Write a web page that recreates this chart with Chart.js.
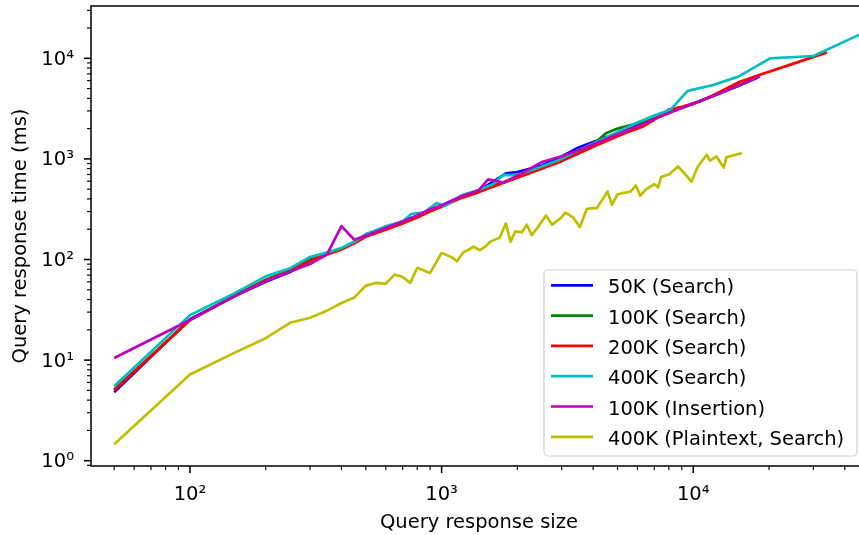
<!DOCTYPE html>
<html>
<head>
<meta charset="utf-8">
<script src="https://cdn.jsdelivr.net/npm/chart.js@4/dist/chart.umd.min.js"></script>
<style>
html, body { margin: 0; padding: 0; width: 859px; height: 535px; overflow: hidden; background: #fff; }
#wrap { width: 868px; height: 535px; }
</style>
</head>
<body>
<div id="wrap"><canvas id="c" width="868" height="535"></canvas></div>
<script>
// ---------- data ----------
const seriesLabels = ['50K (Search)', '100K (Search)', '200K (Search)', '400K (Search)', '100K (Insertion)', '400K (Plaintext, Search)'];

const searchSizes = [50,100,150,200,250,300,350,400,450,500,600,700,800,900,1000,1200,1400,1600,1800,2000,2500,3000,3500,4000,4500,5000,6000,7000,8000,9000,10000,12000,15000,18000];
const blue50K   = [4.8,25.5,43,60,75,97,113,128,150,178,208,238,272,310,345,425,485,590,720,740,860,1060,1300,1470,1640,1800,2130,2500,2880,3230,3560,4250,5300,6450];
const green100K = [5.1,25,44,63,78,100,114,129,148,172,204,235,268,305,340,415,470,540,600,660,815,960,1160,1400,1800,2000,2260,2520,2880,3220,3540,4230,5280,6450];

const red200KSizes = [50,100,150,200,250,300,350,400,450,500,600,700,800,900,1000,1200,1400,1600,1800,2000,2500,3000,3500,4000,4500,5000,5500,6300,7000,8000,9000,10600,12000,15300,18400,25000,34000];
const red200K      = [5.0,25,43,62,77,97,112,126,145,168,198,228,262,300,335,410,465,530,590,650,800,950,1130,1320,1500,1680,1850,2090,2450,3100,3300,3720,4300,5850,6850,8850,11450];

const cyan400KSizes = [50,100,150,200,250,300,350,400,450,500,600,700,760,850,955,1030,1200,1400,1600,1760,2000,2500,3000,3500,4000,4500,5000,6000,7000,8100,9500,12000,15100,20200,30000,45300,50000];
const cyan400K      = [5.5,28,46,68,82,106,117,130,150,178,214,240,285,292,364,340,435,490,560,695,690,840,1000,1220,1420,1620,1850,2300,2700,3070,4740,5430,6570,10000,10540,17000,19100];

const insertSizes = [50,100,150,200,250,300,350,400,450,500,600,700,800,900,1000,1200,1400,1530,1760,2000,2500,3000,3500,4000,4500,5000,6000,7000,8000,9000,10000,12000,15000,18400];
const insert100K  = [10.5,25,43,61,76,90,112,215,157,172,206,238,275,315,345,425,485,625,583,680,930,1060,1220,1390,1570,1760,2110,2490,2860,3210,3530,4220,5300,6580];

const plainSizes = [50,100,150,200,250,300,350,400,450,500,550,600,650,700,750,800,900,1000,1100,1150,1220,1280,1340,1420,1490,1560,1700,1800,1880,1960,2080,2180,2280,2380,2600,2750,2980,3100,3330,3540,3780,4140,4400,4560,4750,5000,5650,5920,6150,6500,7000,7250,7450,7700,8000,8700,9200,9840,10400,11300,11650,12350,13200,13550,15600];
const plain400K  = [1.46,7.2,11.8,16.5,23.5,26.4,31,37,42,55,58.6,57.5,70.8,67,58.6,82.6,73.6,116,105,96,118,125,134,124,134,150,165,228,150,190,186,222,175,200,274,222,260,292,262,211,319,326,410,475,350,445,475,545,430,500,560,520,660,680,700,840,723,595,830,1100,960,1060,820,1040,1140];

const xTickValues = [100, 1000, 10000];
const xTickLabels = ['10²', '10³', '10⁴'];
const yTickValues = [1, 10, 100, 1000, 10000];
const yTickLabels = ['10⁰', '10¹', '10²', '10³', '10⁴'];

// ---------- styles ----------
const seriesColors = ['#0000ff', '#008000', '#ff0000', '#00bfbf', '#bf00bf', '#bfbf00'];
const FONT = { family: 'DejaVu Sans', size: 19.5 };
const LINE_W = 2.7;

const pts = (xs, ys) => xs.map((x, i) => ({ x: x, y: ys[i] }));
const seriesData = [
  pts(searchSizes, blue50K),
  pts(searchSizes, green100K),
  pts(red200KSizes, red200K),
  pts(cyan400KSizes, cyan400K),
  pts(insertSizes, insert100K),
  pts(plainSizes, plain400K)
];

const datasets = seriesLabels.map((label, i) => ({
  label: label,
  data: seriesData[i],
  borderColor: seriesColors[i],
  backgroundColor: seriesColors[i],
  borderWidth: LINE_W,
  pointRadius: 0,
  tension: 0,
  fill: false,
  borderJoinStyle: 'round',
  order: seriesLabels.length - 1 - i
}));

// frame, tick marks and matplotlib-like legend
const mplPlugin = {
  id: 'mplDecor',
  afterDraw(chart) {
    const { ctx, chartArea: a } = chart;
    const xs = chart.scales.x, ys = chart.scales.y;
    ctx.save();
    ctx.strokeStyle = '#000';
    const drawTicks = (scale, horizontal) => {
      const e0 = Math.floor(Math.log10(scale.min)), e1 = Math.ceil(Math.log10(scale.max));
      for (let e = e0; e <= e1; e++) {
        for (let d = 1; d <= 9; d++) {
          const v = d * Math.pow(10, e);
          if (v < scale.min || v > scale.max) continue;
          const p = scale.getPixelForValue(v);
          const major = d === 1;
          const len = major ? 7 : 4;
          ctx.lineWidth = major ? 1.55 : 1.15;
          ctx.beginPath();
          if (horizontal) { ctx.moveTo(p, a.bottom); ctx.lineTo(p, a.bottom + len); }
          else { ctx.moveTo(a.left, p); ctx.lineTo(a.left - len, p); }
          ctx.stroke();
        }
      }
    };
    drawTicks(xs, true);
    drawTicks(ys, false);
    ctx.lineWidth = 1.5;
    ctx.strokeRect(a.left, a.top, a.right - a.left, a.bottom - a.top);

    // legend
    const boxW = 313, boxH = 186;
    const x0 = a.right - 10 - boxW;
    const y0 = a.bottom - 10 - boxH;
    ctx.beginPath();
    ctx.roundRect(x0, y0, boxW, boxH, 4);
    ctx.fillStyle = 'rgba(255,255,255,0.8)';
    ctx.fill();
    ctx.lineWidth = 1.2;
    ctx.strokeStyle = 'rgba(204,204,204,0.9)';
    ctx.stroke();
    ctx.font = FONT.size + 'px "' + FONT.family + '"';
    ctx.textBaseline = 'alphabetic';
    ctx.textAlign = 'left';
    chart.data.datasets.forEach((ds, i) => {
      const ly = y0 + 15.3 + i * 30.3;
      ctx.strokeStyle = ds.borderColor;
      ctx.lineWidth = LINE_W;
      ctx.beginPath();
      ctx.moveTo(x0 + 7, ly);
      ctx.lineTo(x0 + 49, ly);
      ctx.stroke();
      ctx.fillStyle = '#000';
      ctx.fillText(ds.label, x0 + 64, ly + 8);
    });
    ctx.restore();
  }
};

new Chart(document.getElementById('c'), {
  type: 'line',
  data: { datasets: datasets },
  options: {
    responsive: false,
    animation: false,
    devicePixelRatio: 1,
    layout: { padding: { top: 6, right: 1, left: 0, bottom: 0 } },
    plugins: { legend: { display: false }, tooltip: { enabled: false } },
    scales: {
      x: {
        type: 'logarithmic',
        min: 40.44,
        max: 49010,
        afterBuildTicks: s => { s.ticks = xTickValues.map(v => ({ value: v })); },
        afterFit: s => { s.height = 69; s.paddingLeft = 0; s.paddingRight = 0; },
        grid: { display: false, drawTicks: false },
        border: { display: false },
        ticks: {
          autoSkip: false, maxRotation: 0, minRotation: 0, padding: 17,
          color: '#000', font: FONT,
          callback: (v, i) => xTickLabels[i]
        },
        title: { display: true, text: 'Query response size', color: '#000', font: FONT, padding: { top: 0, bottom: 0 } }
      },
      y: {
        type: 'logarithmic',
        min: 0.886,
        max: 33100,
        afterBuildTicks: s => { s.ticks = yTickValues.map(v => ({ value: v })); },
        afterFit: s => { s.width = 91; s.paddingTop = 0; s.paddingBottom = 0; },
        grid: { display: false, drawTicks: false },
        border: { display: false },
        ticks: {
          autoSkip: false, padding: 17, labelOffset: 1.5,
          color: '#000', font: FONT,
          callback: (v, i) => yTickLabels[i]
        },
        title: { display: true, text: 'Query response time (ms)', color: '#000', font: FONT, padding: { top: 9.3, bottom: 0 } }
      }
    }
  },
  plugins: [mplPlugin]
});
</script>
</body>
</html>
